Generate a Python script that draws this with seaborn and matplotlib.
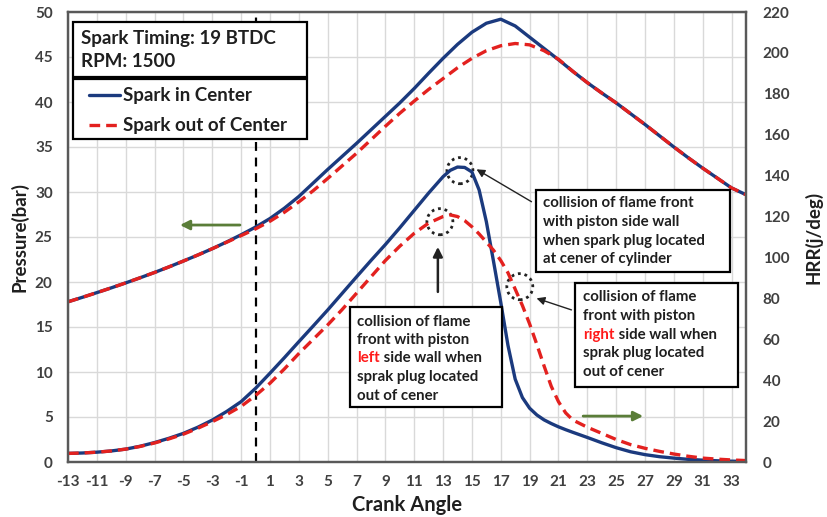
import matplotlib
matplotlib.use("Agg")
import matplotlib.pyplot as plt
from matplotlib.patches import Ellipse, Rectangle
from matplotlib.lines import Line2D
import pandas as pd
import seaborn as sns

# --- datos ---
CENTER = "Spark in Center"
OUT = "Spark out of Center"

crank_p = [-13, -12, -11, -10, -9, -8, -7, -6, -5, -4, -3, -2, -1, 0, 1, 2, 3, 4, 5, 6,
           7, 8, 9, 10, 11, 12, 13, 14, 15, 16, 17, 18, 19, 20, 21, 22, 23, 24, 25, 26,
           27, 28, 29, 30, 31, 32, 33, 34]
pres_center = [17.8, 18.3, 18.82, 19.35, 19.9, 20.47, 21.06, 21.68, 22.33, 23.0, 23.7, 24.45,
               25.25, 26.1, 27.05, 28.2, 29.5, 31.0, 32.5, 33.95, 35.4, 36.9, 38.4, 39.9,
               41.5, 43.2, 44.85, 46.4, 47.75, 48.75, 49.2, 48.45, 47.2, 45.95, 44.7, 43.4,
               42.15, 41.0, 39.9, 38.7, 37.5, 36.25, 35.0, 33.8, 32.65, 31.55, 30.45, 29.7]
pres_out = [17.8, 18.3, 18.82, 19.35, 19.9, 20.47, 21.06, 21.68, 22.33, 23.0, 23.7, 24.42,
            25.15, 25.9, 26.75, 27.75, 28.9, 30.15, 31.5, 32.9, 34.3, 35.8, 37.3, 38.75,
            40.1, 41.4, 42.6, 43.8, 44.85, 45.7, 46.25, 46.5, 46.35, 45.7, 44.75, 43.4,
            42.15, 41.0, 39.9, 38.7, 37.5, 36.25, 35.0, 33.8, 32.65, 31.55, 30.45, 29.7]

crank_hrr = [-13, -12, -11, -10, -9, -8, -7, -6, -5, -4, -3, -2, -1, 0, 1, 2, 3, 4, 5, 6,
             7, 8, 9, 10, 11, 12, 13, 13.5, 14, 14.5, 15, 15.5, 16, 16.5, 17, 17.5, 18,
             18.5, 19, 19.5, 20, 20.5, 21, 21.5, 22, 23, 24, 25, 26, 27, 28, 29, 30, 31,
             32, 33, 34]
hrr_center = [4.2, 4.4, 4.8, 5.4, 6.3, 7.7, 9.5, 11.6, 14.0, 17.0, 20.5, 24.7, 29.5, 36.0,
              43.4, 51.0, 58.8, 66.5, 74.3, 82.4, 90.5, 98.5, 106.3, 114.5, 123.0, 131.5,
              139.5, 142.6, 144.2, 144.0, 141.8, 133.0, 117.5, 98.0, 78.0, 57.0, 40.5, 31.5,
              26.3, 23.0, 20.6, 18.8, 17.2, 15.8, 14.5, 12.0, 9.4, 7.0, 5.0, 3.6, 2.6, 1.9,
              1.3, 0.9, 0.6, 0.4, 0.3]
hrr_out = [4.2, 4.4, 4.8, 5.4, 6.3, 7.6, 9.3, 11.3, 13.6, 16.5, 19.7, 23.2, 27.2, 32.5,
           38.5, 45.5, 53.0, 60.0, 67.0, 74.5, 82.5, 90.5, 98.5, 105.5, 111.8, 116.8,
           120.0, 120.8, 120.0, 118.0, 115.0, 111.5, 107.5, 103.5, 98.5, 92.5, 84.5, 76.5,
           67.5, 57.5, 47.0, 37.0, 29.5, 24.0, 20.5, 17.0, 14.0, 11.0, 8.5, 6.7, 5.2, 3.9,
           2.8, 1.9, 1.4, 1.0, 0.7]

x_ticks = list(range(-13, 34, 2))
p_ticks = list(range(0, 51, 5))
hrr_ticks = list(range(0, 221, 20))

BLUE = "#1b3a7e"
RED = "#e3211f"
GREEN = "#5a7d38"
FRAME = "#595959"
TICKC = "#404040"
TEXTC = "#1f1f1f"

sns.set_theme(style="white")
plt.rcParams["font.family"] = ["Lato", "DejaVu Sans"]
plt.rcParams["font.weight"] = "bold"
plt.rcParams["axes.labelweight"] = "bold"
plt.rcParams["axes.unicode_minus"] = False

df_p = pd.DataFrame({"crank": crank_p * 2, "valor": pres_center + pres_out,
                     "caso": [CENTER] * len(crank_p) + [OUT] * len(crank_p)})
df_h = pd.DataFrame({"crank": crank_hrr * 2, "valor": hrr_center + hrr_out,
                     "caso": [CENTER] * len(crank_hrr) + [OUT] * len(crank_hrr)})

paleta = {CENTER: BLUE, OUT: RED}
trazos = {CENTER: "", OUT: (3.2, 1.8)}

fig = plt.figure(figsize=(8.28, 5.17), dpi=100)
ax = fig.add_axes([68 / 828, 55 / 517, 678 / 828, 450 / 517])
ax2 = ax.twinx()


def frac(px, py):
    """Posicion en pixeles de la referencia -> fraccion de ejes."""
    return (px - 68) / 678, (462 - py) / 450


sns.lineplot(data=df_p, x="crank", y="valor", hue="caso", style="caso", palette=paleta,
             dashes=trazos, linewidth=2.4, legend=False, ax=ax)
sns.lineplot(data=df_h, x="crank", y="valor", hue="caso", style="caso", palette=paleta,
             dashes=trazos, linewidth=2.4, legend=False, ax=ax2)

ax.axvline(0, color="black", lw=1.6, dashes=(4, 3), zorder=1)

ax.set_xlim(-13, 34)
ax.set_ylim(0, 50)
ax2.set_ylim(0, 220)
ax.set_xticks(x_ticks)
ax.set_yticks(p_ticks)
ax2.set_yticks(hrr_ticks)
ax.grid(True, color="#d9d9d9", lw=1)
ax.set_axisbelow(True)
ax2.grid(False)

ax.tick_params(length=0, labelsize=11, labelcolor=TICKC)
ax.tick_params(axis="x", pad=9)
ax.tick_params(axis="y", pad=11)
ax2.tick_params(length=0, labelsize=11, labelcolor=TICKC, pad=12)

for a in (ax, ax2):
    for s in a.spines.values():
        s.set_color(FRAME)
        s.set_linewidth(1.6)

ax.set_xlabel("Crank Angle", fontsize=14.5, color=TEXTC, va="center")
ax.set_ylabel("Pressure(bar)", fontsize=13.5, color=TEXTC, va="center")
ax2.set_ylabel("HRR(j/deg)", fontsize=13.5, color=TEXTC, va="center")
ax.xaxis.set_label_coords(0.5, -0.096)
ax.yaxis.set_label_coords(-0.072, 0.5)
ax2.yaxis.set_label_coords(1.100, 0.5)


# --- cajas de texto ---
def caja(x0, y0, x1, y1):
    (fx0, fy0), (fx1, fy1) = frac(x0, y1), frac(x1, y0)
    ax2.add_patch(Rectangle((fx0, fy0), fx1 - fx0, fy1 - fy0, transform=ax2.transAxes,
                            facecolor="white", edgecolor="black", lw=1.6, zorder=5))


def lineas(px, ys, textos, size):
    for py, txt in zip(ys, textos):
        fx, fy = frac(px, py)
        if isinstance(txt, tuple):
            rojo, resto = txt
            t = ax2.text(fx, fy, rojo, transform=ax2.transAxes, color="#ff1a1a",
                         fontsize=size, va="center", ha="left", zorder=6)
            ax2.annotate(resto, xy=(1, 0), xycoords=t, va="bottom", ha="left",
                         fontsize=size, color=TEXTC, zorder=6)
        else:
            ax2.text(fx, fy, txt, transform=ax2.transAxes, color=TEXTC,
                     fontsize=size, va="center", ha="left", zorder=6)


caja(72.7, 21.7, 307.3, 77.3)
lineas(81, [38.3, 61.7], ["Spark Timing: 19 BTDC", "RPM: 1500"], 13.5)

caja(72.7, 79.3, 307.3, 139.3)
manejadores = [Line2D([], [], color=BLUE, lw=2.4),
               Line2D([], [], color=RED, lw=2.4, dashes=(3.2, 1.8))]
leg = ax2.legend(manejadores, [CENTER, OUT], loc="upper left",
                 bbox_to_anchor=frac(89, 87.5), bbox_transform=ax2.transAxes,
                 frameon=False, fontsize=13.5, handlelength=1.65, handletextpad=0.15,
                 borderpad=0, borderaxespad=0, labelspacing=0.68)
leg.set_zorder(6)
for t in leg.get_texts():
    t.set_color(TEXTC)

caja(536, 190, 730, 272)
lineas(543.3, [203.3, 221.7, 240.7, 259.3],
       ["collision of flame front", "with piston side wall",
        "when spark plug located", "at cener of cylinder"], 10.8)

caja(350, 306.7, 501.7, 407.3)
lineas(357.3, [321.7, 340, 358.3, 377.3, 396],
       ["collision of flame", "front with piston", ("left", " side wall when"),
        "sprak plug located", "out of cener"], 10.8)

caja(575, 283.3, 738.3, 386.7)
lineas(583.3, [297.3, 315.7, 335, 353.3, 371.7],
       ["collision of flame", "front with piston", ("right", " side wall when"),
        "sprak plug located", "out of cener"], 10.8)

# --- circulos punteados y flechas (coordenadas del eje de presion) ---
for cx, cy in [(14.17, 32.37), (12.78, 26.7), (18.32, 19.48)]:
    ax.add_patch(Ellipse((cx, cy), 1.8, 2.9, fill=False, edgecolor="#222222", lw=2,
                         linestyle=(0, (1, 1.4)), zorder=3))

negro = dict(arrowstyle="-|>", color="#222222", lw=1, mutation_scale=12, shrinkA=0, shrinkB=0)
ax.annotate("", xy=(15.32, 32.52), xytext=(19.13, 28.92), arrowprops=negro)
ax.annotate("", xy=(19.48, 18.19), xytext=(21.9, 16.9), arrowprops=negro)
ax.annotate("", xy=(12.64, 23.9), xytext=(12.64, 18.9),
            arrowprops=dict(negro, lw=1.8, mutation_scale=14))

verde = dict(arrowstyle="-|>", color=GREEN, lw=2, mutation_scale=14, shrinkA=0, shrinkB=0)
ax.annotate("", xy=(-5.24, 26.33), xytext=(-1.08, 26.33), arrowprops=verde)
ax.annotate("", xy=(26.87, 5.1), xytext=(22.71, 5.1), arrowprops=verde)

fig.savefig("out.png", dpi=100)
